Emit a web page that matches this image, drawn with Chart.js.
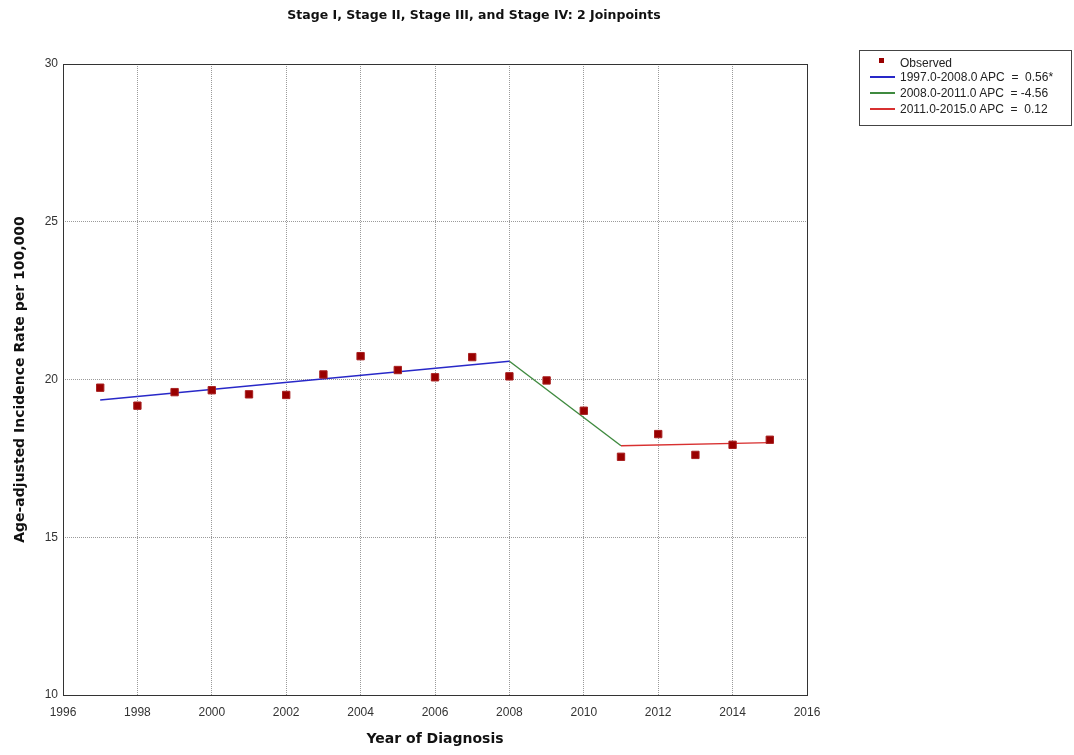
<!DOCTYPE html>
<html>
<head>
<meta charset="utf-8">
<script src="https://cdn.jsdelivr.net/npm/chart.js@4.4.1/dist/chart.umd.min.js"></script>
<style>
  body { margin: 0; background: #fff; }
  #wrap { position: relative; width: 1074px; height: 755px; }
  #titulo {
    position: absolute; left: 274px; width: 400px; top: 7px;
    text-align: center; font: bold 12.5px "DejaVu Sans", sans-serif; color: #111;
  }
  #leyenda {
    position: absolute; left: 859px; top: 50px; width: 213px; height: 76px;
    border: 1px solid #444; box-sizing: border-box;
    font: 12px "Liberation Sans", Arial, sans-serif; color: #222;
  }
  .item { position: absolute; left: 0; height: 16px; white-space: pre; }
  .item span.txt { position: absolute; left: 40px; top: 0; line-height: 16px; }
  .item span.linea { position: absolute; left: 10px; width: 25px; top: 7px; height: 2px; }
  .item span.cuadro { position: absolute; left: 19px; top: 3px; width: 5px; height: 5px; }
</style>
</head>
<body>
<div id="wrap">
  <canvas id="grafico"></canvas>
  <div id="titulo">Stage I, Stage II, Stage III, and Stage IV: 2 Joinpoints</div>
  <div id="leyenda"></div>
</div>
<script>
const anios = [1997, 1998, 1999, 2000, 2001, 2002, 2003, 2004, 2005, 2006, 2007, 2008, 2009, 2010, 2011, 2012, 2013, 2014, 2015];
const observados = [19.74, 19.17, 19.60, 19.66, 19.53, 19.51, 20.16, 20.74, 20.30, 20.07, 20.71, 20.10, 19.97, 19.01, 17.55, 18.27, 17.61, 17.93, 18.09];

// Segmentos ajustados (joinpoints)
const tramo1Anios = [1997, 2008];
const tramo1Valores = [19.35, 20.58];
const tramo2Anios = [2008, 2011];
const tramo2Valores = [20.58, 17.90];
const tramo3Anios = [2011, 2015];
const tramo3Valores = [17.90, 18.00];

const etiquetas = [
    'Observed',
    '1997.0-2008.0 APC  =  0.56*',
    '2008.0-2011.0 APC  = -4.56',
    '2011.0-2015.0 APC  =  0.12'
];

// Arma pares {x, y} para el eje lineal
function puntos(xs, ys) {
    return xs.map((x, i) => ({ x: x, y: ys[i] }));
}

// Marco negro alrededor del area del grafico
const marco = {
    id: 'marco',
    beforeDatasetsDraw(chart) {
        const { ctx, chartArea: a } = chart;
        ctx.save();
        ctx.strokeStyle = '#333';
        ctx.lineWidth = 1;
        ctx.strokeRect(Math.round(a.left) + 0.5, Math.round(a.top) + 0.5,
            Math.round(a.right - a.left), Math.round(a.bottom - a.top));
        ctx.restore();
    }
};

const ctx = document.getElementById('grafico').getContext('2d');
const chart = new Chart(ctx, {
    type: 'scatter',
    data: {
        datasets: [{
            label: etiquetas[0],
            data: puntos(anios, observados),
            showLine: false,
            pointStyle: 'rect',
            pointRadius: 5.2,
            backgroundColor: '#990000',
            borderColor: '#a82020',
            borderWidth: 1
        }, {
            label: etiquetas[1],
            data: puntos(tramo1Anios, tramo1Valores),
            showLine: true,
            pointRadius: 0,
            borderColor: '#2828c8',
            borderWidth: 1.4
        }, {
            label: etiquetas[2],
            data: puntos(tramo2Anios, tramo2Valores),
            showLine: true,
            pointRadius: 0,
            borderColor: '#3f8a3f',
            borderWidth: 1.4
        }, {
            label: etiquetas[3],
            data: puntos(tramo3Anios, tramo3Valores),
            showLine: true,
            pointRadius: 0,
            borderColor: '#d83030',
            borderWidth: 1.4
        }]
    },
    options: {
        responsive: true,
        maintainAspectRatio: false,
        animation: false,
        layout: { padding: { left: 0, top: 64, right: 267, bottom: 0 } },
        plugins: {
            legend: { display: false },
            tooltip: { enabled: false },
            title: { display: false }
        },
        scales: {
            x: {
                type: 'linear',
                min: 1996,
                max: 2016,
                afterFit(scale) { scale.height = 60; },
                ticks: {
                    stepSize: 2,
                    padding: 10,
                    color: '#333',
                    font: { family: 'Liberation Sans', size: 12 },
                    callback: v => String(v)
                },
                grid: { color: '#9a9a9a', drawTicks: false },
                border: { display: false, dash: [1, 1] },
                title: {
                    display: true,
                    text: 'Year of Diagnosis',
                    color: '#111',
                    font: { family: 'DejaVu Sans', size: 14, weight: 'bold' },
                    padding: { top: 0, bottom: 7 }
                }
            },
            y: {
                min: 10,
                max: 30,
                afterFit(scale) { scale.width = 63; },
                ticks: {
                    stepSize: 5,
                    padding: 5,
                    color: '#333',
                    font: { family: 'Liberation Sans', size: 12 }
                },
                grid: { color: '#9a9a9a', drawTicks: false },
                border: { display: false, dash: [1, 1] },
                title: {
                    display: true,
                    text: 'Age-adjusted Incidence Rate per 100,000',
                    color: '#111',
                    font: { family: 'DejaVu Sans', size: 14, weight: 'bold' },
                    padding: { top: 12, bottom: 0 }
                }
            }
        }
    },
    plugins: [marco]
});

// Leyenda en HTML, armada desde los datasets
const leyenda = document.getElementById('leyenda');
const filasY = [4, 18, 34, 50];
chart.data.datasets.forEach((ds, i) => {
    const fila = document.createElement('div');
    fila.className = 'item';
    fila.style.top = filasY[i] + 'px';
    const marca = document.createElement('span');
    if (i === 0) {
        marca.className = 'cuadro';
        marca.style.background = ds.backgroundColor;
    } else {
        marca.className = 'linea';
        marca.style.background = ds.borderColor;
    }
    const texto = document.createElement('span');
    texto.className = 'txt';
    texto.textContent = ds.label;
    fila.appendChild(marca);
    fila.appendChild(texto);
    leyenda.appendChild(fila);
});
</script>
</body>
</html>
